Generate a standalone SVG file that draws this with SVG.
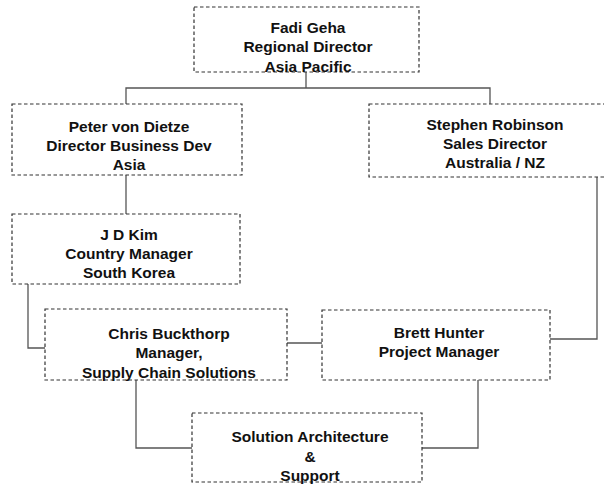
<svg xmlns="http://www.w3.org/2000/svg" width="604" height="484" viewBox="0 0 604 484">
<style>
.box{fill:none;stroke:#333;stroke-width:1.2;stroke-dasharray:3.5,2.5}
.t{font-family:"Liberation Sans",Arial,sans-serif;font-weight:bold;font-size:15.5px;fill:#111;text-anchor:middle}
.c{fill:none;stroke:#555;stroke-width:1.3}
</style>
<rect width="604" height="484" fill="#fff"/>
<g id="connectors">
<path class="c" d="M306 72V88M126 104V88H490V104"/>
<path class="c" d="M126 175V214"/>
<path class="c" d="M28 284V348H45"/>
<path class="c" d="M287 343H322"/>
<path class="c" d="M597 177V339H550"/>
<path class="c" d="M136 380V448H192"/>
<path class="c" d="M478 380V448H422"/>
</g>
<g id="fadi">
<rect class="box" x="194" y="7" width="225" height="65"/>
<text class="t" x="308" y="33">Fadi Geha</text>
<text class="t" x="308" y="52">Regional Director</text>
<text class="t" x="308" y="72">Asia Pacific</text>
</g>
<g id="peter">
<rect class="box" x="12" y="104" width="230" height="71"/>
<text class="t" x="129" y="132">Peter von Dietze</text>
<text class="t" x="129" y="151">Director Business Dev</text>
<text class="t" x="129" y="170">Asia</text>
</g>
<g id="stephen">
<rect class="box" x="369" y="104" width="240" height="73"/>
<text class="t" x="495" y="130">Stephen Robinson</text>
<text class="t" x="495" y="149">Sales Director</text>
<text class="t" x="495" y="168">Australia / NZ</text>
</g>
<g id="jdkim">
<rect class="box" x="12" y="214" width="228" height="70"/>
<text class="t" x="129" y="240">J D Kim</text>
<text class="t" x="129" y="259">Country Manager</text>
<text class="t" x="129" y="278">South Korea</text>
</g>
<g id="chris">
<rect class="box" x="45" y="309" width="242" height="71"/>
<text class="t" x="169" y="339">Chris Buckthorp</text>
<text class="t" x="169" y="358">Manager,</text>
<text class="t" x="169" y="378">Supply Chain Solutions</text>
</g>
<g id="brett">
<rect class="box" x="322" y="310" width="228" height="70"/>
<text class="t" x="439" y="338">Brett Hunter</text>
<text class="t" x="439" y="357">Project Manager</text>
</g>
<g id="solution">
<rect class="box" x="192" y="413" width="230" height="69"/>
<text class="t" x="310" y="442">Solution Architecture</text>
<text class="t" x="310" y="462">&amp;</text>
<text class="t" x="310" y="481">Support</text>
</g>
</svg>
